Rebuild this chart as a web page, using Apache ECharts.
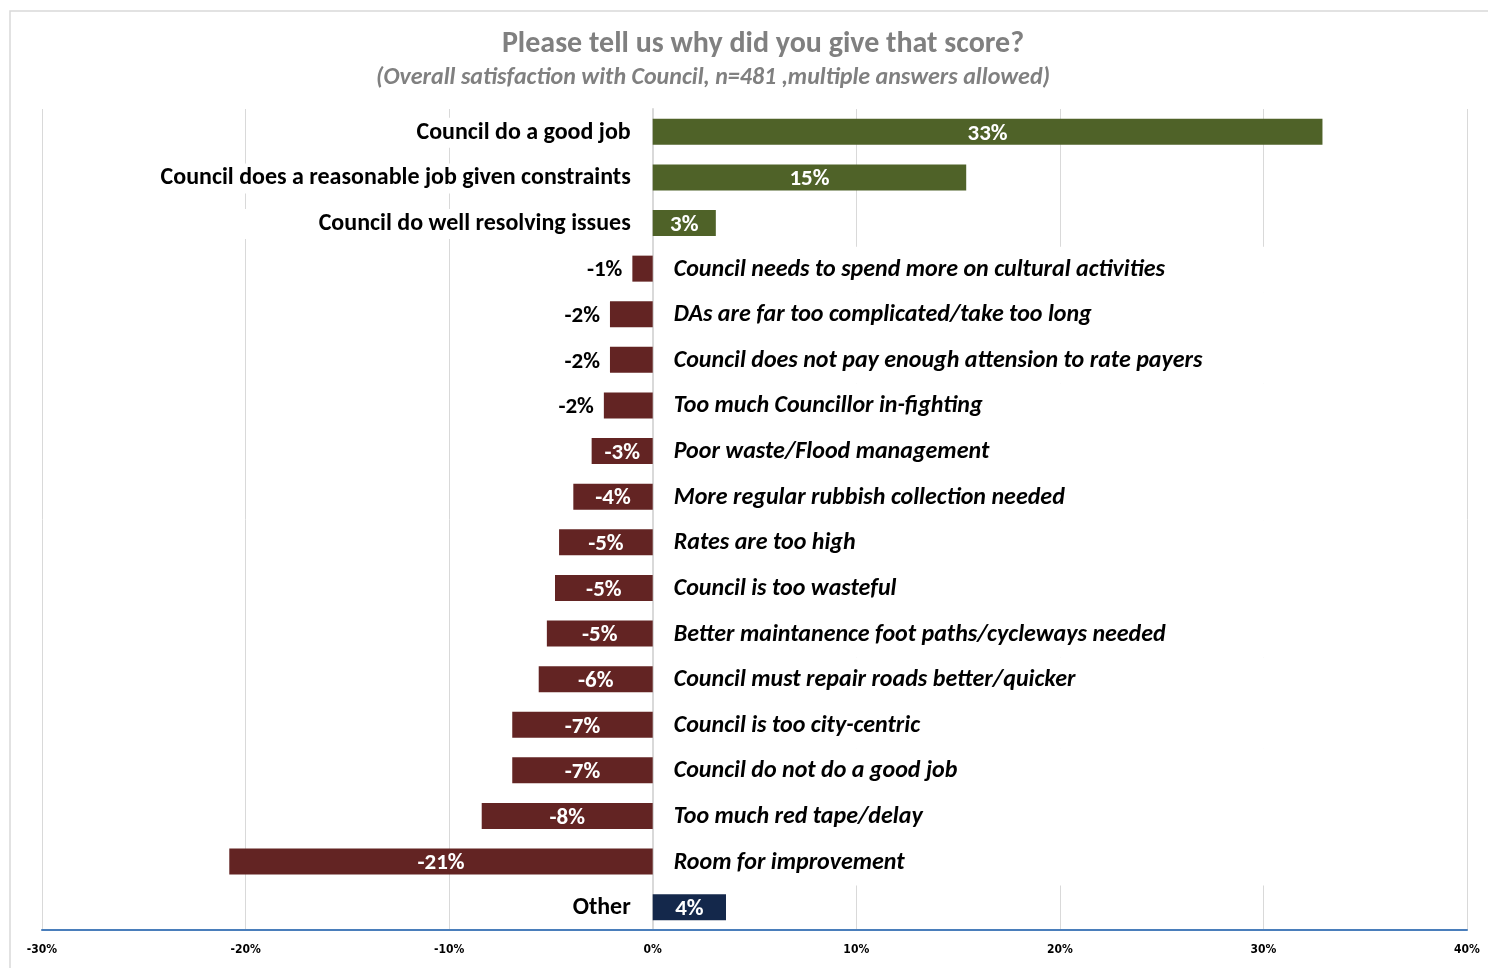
<!DOCTYPE html>
<html>
<head>
<meta charset="utf-8">
<title>Please tell us why did you give that score?</title>
<script src="https://cdn.jsdelivr.net/npm/echarts@6/dist/echarts.min.js"></script>
<style>
  html, body { margin: 0; padding: 0; background: #ffffff; overflow: hidden; }
  #chart { width: 1488px; height: 968px; }
</style>
</head>
<body>
<div id="chart"></div>
<script>
// Reasons given for the overall satisfaction score (% of respondents, negatives shown left of zero)
const categories = [
  'Council do a good job',
  'Council does a reasonable job given constraints',
  'Council do well resolving issues',
  'Council needs to spend more on cultural activities',
  'DAs are far too complicated/take too long',
  'Council does not pay enough attension to rate payers',
  'Too much Councillor in-fighting',
  'Poor waste/Flood management',
  'More regular rubbish collection needed',
  'Rates are too high',
  'Council is too wasteful',
  'Better maintanence foot paths/cycleways needed',
  'Council must repair roads better/quicker',
  'Council is too city-centric',
  'Council do not do a good job',
  'Too much red tape/delay',
  'Room for improvement',
  'Other'
];
const values = [32.9, 15.4, 3.1, -1.0, -2.1, -2.1, -2.4, -3.0, -3.9, -4.6, -4.8, -5.2, -5.6, -6.9, -6.9, -8.4, -20.8, 3.6];

const axisMin = -30;
const axisMax = 40;
const axisStep = 10;

const chartTitle = 'Please tell us why did you give that score?';
const chartSubtitle = '(Overall satisfaction with Council, n=481 ,multiple answers allowed)';

const FONT = 'Carlito, Lato, "Open Sans", sans-serif';
const GREEN = '#4f6228';
const RED = '#632423';
const NAVY = '#14284b';
const GRID_GREY = '#d9d9d9';

function barColor(name, v) {
  if (name === 'Other') return NAVY;
  return v >= 0 ? GREEN : RED;
}

// white boxes behind the left-hand labels of the favourable reasons
const leftBoxWidth = { 0: 300, 1: 480, 2: 480 };

const barData = values.map((v, i) => {
  const small = v < 0 && Math.abs(v) < 2.5;
  return {
    value: v,
    itemStyle: { color: barColor(categories[i], v) },
    label: small
      ? { position: 'left', distance: 10, color: '#000000' }
      : { position: 'inside', color: '#ffffff' }
  };
});

const nameData = values.map((v, i) => {
  if (v >= 0) {
    const w = leftBoxWidth[i];
    return {
      value: 0,
      label: Object.assign({
        position: 'left',
        distance: 22,
        align: 'right',
        fontStyle: 'normal'
      }, w ? { width: w, height: 30, lineHeight: 30, backgroundColor: '#ffffff' } : {})
    };
  }
  return {
    value: 0,
    label: {
      position: 'right',
      distance: 21,
      align: 'left',
      fontStyle: 'italic',
      width: 600,
      height: 46,
      lineHeight: 46,
      backgroundColor: '#ffffff'
    }
  };
});

const chart = echarts.init(document.getElementById('chart'), null, { renderer: 'canvas' });

chart.setOption({
  backgroundColor: '#ffffff',
  animation: false,
  textStyle: { fontFamily: FONT },
  title: [
    {
      text: chartTitle,
      left: 758,
      top: 24,
      textAlign: 'center',
      textStyle: { fontFamily: FONT, fontSize: 30, fontWeight: 'bold', color: '#808080' }
    },
    {
      text: chartSubtitle,
      left: 708,
      top: 61,
      textAlign: 'center',
      textStyle: { fontFamily: FONT, fontSize: 24, fontWeight: 'bold', fontStyle: 'italic', color: '#808080' }
    }
  ],
  graphic: [{
    type: 'rect',
    silent: true,
    z: -10,
    shape: { x: 10, y: 11, width: 1520, height: 1000 },
    style: { fill: null, stroke: '#d9d9d9', lineWidth: 1.5 }
  }],
  grid: { left: 42, right: 21, top: 109, bottom: 38, containLabel: false },
  xAxis: {
    type: 'value',
    min: axisMin,
    max: axisMax,
    interval: axisStep,
    axisLine: { show: true, onZero: false, lineStyle: { color: '#4a7ebb', width: 2 } },
    axisTick: { show: false },
    splitLine: { show: true, lineStyle: { color: GRID_GREY, width: 1 } },
    axisLabel: {
      margin: 14,
      fontFamily: '"Liberation Sans Narrow", "DejaVu Sans Condensed", sans-serif',
      fontSize: 12,
      fontWeight: 'bold',
      color: '#000000',
      formatter: v => v + '%'
    }
  },
  yAxis: {
    type: 'category',
    inverse: true,
    data: categories,
    axisLine: { show: true, onZero: true, lineStyle: { color: GRID_GREY, width: 2 } },
    axisTick: { show: false },
    axisLabel: { show: false },
    splitLine: { show: false }
  },
  series: [
    {
      name: 'Share',
      type: 'bar',
      barWidth: 26,
      barGap: '-100%',
      data: barData,
      z: 3,
      label: {
        show: true,
        fontFamily: FONT,
        fontSize: 23,
        fontWeight: 'bold',
        offset: [0, 2],
        formatter: p => Math.round(p.value) + '%'
      }
    },
    {
      name: 'Reason',
      type: 'bar',
      barWidth: 26,
      barGap: '-100%',
      data: nameData,
      silent: true,
      z: 4,
      itemStyle: { color: 'rgba(0,0,0,0)' },
      label: {
        show: true,
        fontFamily: FONT,
        fontSize: 24,
        fontWeight: 'bold',
        color: '#000000',
        offset: [0, 1],
        formatter: p => categories[p.dataIndex]
      }
    }
  ]
});
</script>
</body>
</html>
